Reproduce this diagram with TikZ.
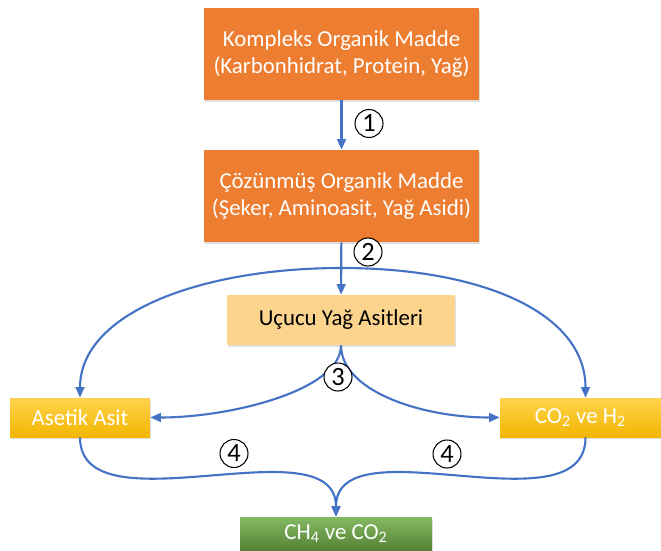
\documentclass[tikz,border=0pt]{standalone}
\usepackage{fontspec}
\setmainfont{Carlito}
\usetikzlibrary{arrows.meta,shadows}
\definecolor{turuncu}{HTML}{ED7D31}
\definecolor{acik}{HTML}{FCD48E}
\definecolor{altin}{HTML}{FFC000}
\definecolor{yesil}{HTML}{70AD47}
\definecolor{mavi}{HTML}{4472C4}
\begin{document}
\begin{tikzpicture}[x=0.02cm,y=-0.02cm,
  kutu/.style={rectangle, inner sep=0pt, align=center, text=white,
    font=\fontsize{13}{15.5}\selectfont,
    drop shadow={opacity=0.25, shadow xshift=0.6pt, shadow yshift=-1pt}},
  ok/.style={draw=mavi, line width=1.2pt, -{Triangle[width=5pt,length=6pt]}},
  adim/.style={circle, draw, line width=0.6pt, fill=white, inner sep=0pt, minimum size=0.56cm,
    font=\fontsize{15}{18}\selectfont}]
\useasboundingbox (0,0) rectangle (661,550);

% boxes
\node[kutu, fill=turuncu, minimum width=5.5cm, minimum height=1.84cm] (kompleks) at (341.5,54)
  {Kompleks Organik Madde\\(Karbonhidrat, Protein, Yağ)};
\node[kutu, fill=turuncu, minimum width=5.5cm, minimum height=1.84cm] (cozunmus) at (341.5,196)
  {Çözünmüş Organik Madde\\(Şeker, Aminoasit, Yağ Asidi)};
\node[kutu, fill=acik, text=black, minimum width=4.56cm, minimum height=1.0cm] (ucucu) at (341,320)
  {Uçucu Yağ Asitleri};
\node[kutu, top color=altin!70!white, bottom color=altin!95!black, minimum width=2.8cm, minimum height=0.78cm] (asetik) at (80,417.5)
  {Asetik Asit};
\node[kutu, top color=altin!70!white, bottom color=altin!95!black, minimum width=3.22cm, minimum height=0.78cm] (gaz) at (580.5,417.5)
  {CO\textsubscript{2} ve H\textsubscript{2}};
\node[kutu, top color=yesil!85!white, bottom color=yesil!75!black, minimum width=3.84cm, minimum height=0.66cm] (metan) at (336,533.5)
  {CH\textsubscript{4} ve CO\textsubscript{2}};

% connectors
\coordinate (ayrim) at (341.5,268);
\draw[ok] (kompleks) -- (cozunmus);
\draw[ok] (cozunmus) -- (ucucu);
\draw[ok] (ayrim) .. controls +(-140,0) and +(0,-85) .. (asetik.north);
\draw[ok] (ayrim) .. controls +(140,0) and +(0,-85) .. ([xshift=1mm]gaz.north);
\draw[ok] (ucucu.south) .. controls +(0,45) and +(80,0) .. (asetik.east);
\draw[ok] (ucucu.south) .. controls +(0,45) and +(-80,0) .. (gaz.west);
\draw[ok] (asetik.south) .. controls +(0,95) and +(0,-95) .. (metan.north);
\draw[ok] ([xshift=1mm]gaz.south) .. controls +(0,95) and +(0,-95) .. (metan.north);

% steps
\node[adim] (a1) at (369,123.5) {1};
\node[adim] (a2) at (368,252) {2};
\node[adim] (a3) at (338,377) {3};
\node[adim] (a4) at (234,453.5) {4};
\node[adim] (a5) at (447,454) {4};
\end{tikzpicture}
\end{document}
